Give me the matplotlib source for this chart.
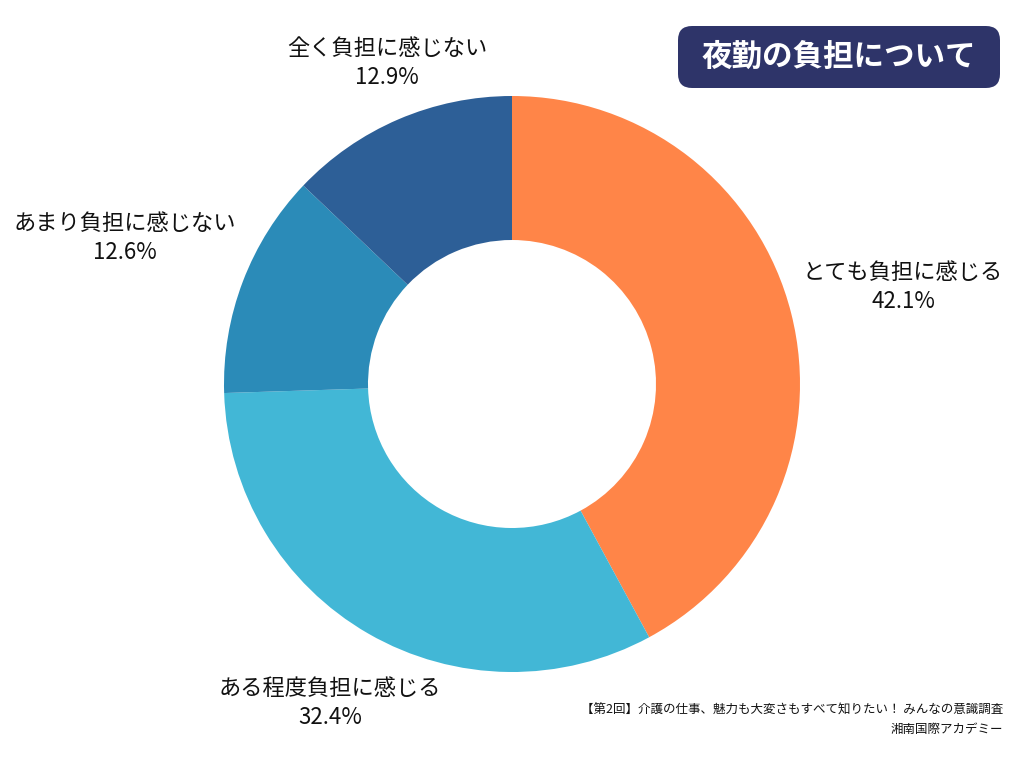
import matplotlib
matplotlib.use("Agg")
import matplotlib.pyplot as plt
from matplotlib.patches import FancyBboxPatch

plt.rcParams["font.family"] = "Noto Sans CJK JP"

categories = ["とても負担に感じる", "ある程度負担に感じる", "あまり負担に感じない", "全く負担に感じない"]
values = [42.1, 32.4, 12.6, 12.9]
colors = ["#FF8548", "#42B7D6", "#2B8BB8", "#2D5F97"]
label_pos = [(903, 287), (330, 703), (125, 238), (387, 63)]

fig = plt.figure(figsize=(10.24, 7.68), dpi=100)
ax = fig.add_axes([0, 0, 1, 1])
ax.set_xlim(0, 1024)
ax.set_ylim(0, 768)
ax.set_aspect("equal")
ax.axis("off")

ax.pie(values, colors=colors, startangle=90, counterclock=False,
       center=(512, 768 - 384), radius=288,
       wedgeprops=dict(width=144, linewidth=0))
ax.set_xlim(0, 1024)
ax.set_ylim(0, 768)

for c, v, (x, y) in zip(categories, values, label_pos):
    ax.text(x, 768 - y, f"{c}\n{v}%", ha="center", va="center",
            fontsize=16, color="#111111", linespacing=1.35)

box = FancyBboxPatch((678, 768 - 88), 322, 62, boxstyle="round,pad=0,rounding_size=14",
                     facecolor="#2E3469", edgecolor="none")
ax.add_patch(box)
ax.text(839, 768 - 57, "夜勤の負担について", ha="center", va="center",
        fontsize=22, fontweight="bold", color="white")

ax.text(1003, 768 - 720, "【第2回】介護の仕事、魅力も大変さもすべて知りたい！ みんなの意識調査\n湘南国際アカデミー",
        ha="right", va="center", fontsize=9, color="#111111", linespacing=1.6,
        multialignment="right")

fig.savefig("out.png", dpi=100)
